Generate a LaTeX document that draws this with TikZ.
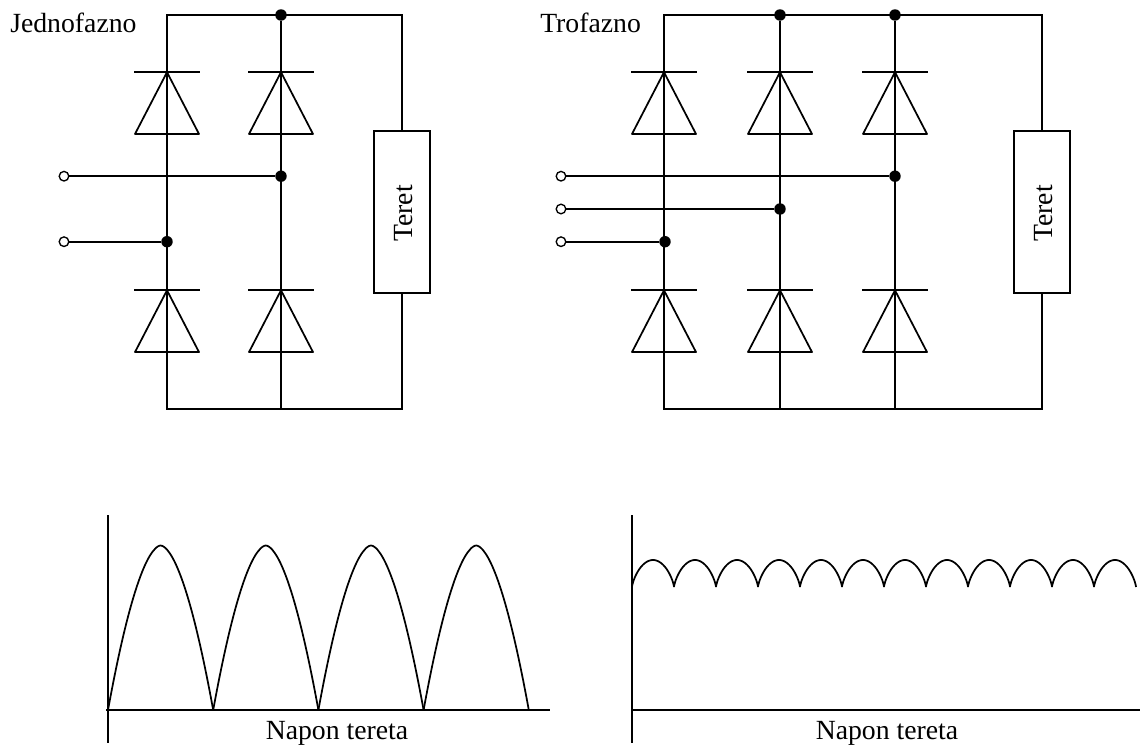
\documentclass[tikz,border=0pt]{standalone}
\usepackage{fontspec}
\setmainfont{Liberation Serif}
\tikzset{
  x=0.75pt,y=-0.75pt,
  wire/.style={line width=1.3pt,line cap=butt,line join=miter},
  dotj/.style={circle,fill=black,draw=none,inner sep=0pt,minimum size=8.6pt},
  term/.style={circle,fill=white,draw=black,line width=1pt,inner sep=0pt,minimum size=7.2pt},
  load/.style={rectangle,draw=black,fill=white,line width=1.25pt,inner sep=0pt,minimum width=42pt,minimum height=121.5pt},
  lbl/.style={font=\fontsize{20.8pt}{24pt}\selectfont,inner sep=0pt,anchor=base},
  diodepic/.pic={
    \draw[wire] (-33,0) -- (33,0);
    \draw[wire,line join=round] (0,0) -- (-32,61.8) -- (32,61.8) -- cycle;
  }
}
\begin{document}
\begin{tikzpicture}
\useasboundingbox (0,0) rectangle (1140,747);
% --- single phase ---
\coordinate (atl) at (167,15);
\coordinate (atr) at (402,15);
\coordinate (abl) at (167,409);
\coordinate (abm) at (281,409);
\coordinate (abr) at (402,409);
\node[dotj] (at2) at (281,15) {};
\node[dotj] (aj2) at (281,176.2) {};
\node[dotj] (aj1) at (167,241.7) {};
\node[term] (at) at (64,176.2) {};
\node[term] (ab) at (64,241.7) {};
\node[load] (aload) at (402,212) {};
\draw[wire] (aload.north) -- (atr) -- (atl) -- (abl) -- (abr) -- (aload.south);
\draw[wire] (at2) -- (abm);
\draw[wire] (at) -- (aj2);
\draw[wire] (ab) -- (aj1);
\foreach \xx in {167,281}{
  \pic at (\xx,72.2) {diodepic};
  \pic at (\xx,290.3) {diodepic};
}
\node[lbl,rotate=90] (aterm) at (412,213.5) {Teret};
\node[lbl,anchor=base west] (atitle) at (10,32) {Jednofazno};
% --- three phase ---
\coordinate (btl) at (664,15);
\coordinate (btr) at (1042,15);
\coordinate (bbl) at (664,409);
\coordinate (bbm) at (780,409);
\coordinate (bbn) at (895,409);
\coordinate (bbr) at (1042,409);
\node[dotj] (bt2) at (780,15) {};
\node[dotj] (bt3) at (895,15) {};
\node[dotj] (bj3) at (895,176.2) {};
\node[dotj] (bj2) at (780,209) {};
\node[dotj] (bj1) at (665,241.7) {};
\node[term] (b3) at (561,176.2) {};
\node[term] (b2) at (561,209) {};
\node[term] (b1) at (561,241.7) {};
\node[load] (bload) at (1042,212) {};
\draw[wire] (bload.north) -- (btr) -- (btl) -- (bbl) -- (bbr) -- (bload.south);
\draw[wire] (bt2) -- (bbm);
\draw[wire] (bt3) -- (bbn);
\draw[wire] (b3) -- (bj3);
\draw[wire] (b2) -- (bj2);
\draw[wire] (b1) -- (bj1);
\foreach \xx in {664,780,895}{
  \pic at (\xx,72.2) {diodepic};
  \pic at (\xx,290.3) {diodepic};
}
\node[lbl,rotate=90] (bterm) at (1052,213.5) {Teret};
\node[lbl,anchor=base west] (btitle) at (540,32) {Trofazno};
% --- left graph ---
\coordinate (c0) at (108,515);
\coordinate (c1) at (108,743);
\coordinate (c2) at (106,710);
\coordinate (c3) at (550,710);
\draw[wire] (c0) -- (c1);
\draw[wire] (c2) -- (c3);
\foreach \k in {0,1,2,3}{
  \draw[wire,line join=round] plot[domain=-1:1,samples=81] ({160.6+105.2*\k+52.6*\x},{710-164.5*(1-pow(max(abs(\x),0.001),1.75))});
}
\node[lbl] (cl) at (337,739) {Napon tereta};
% --- right graph ---
\coordinate (d0) at (632,515);
\coordinate (d1) at (632,743);
\coordinate (d2) at (632,710);
\coordinate (d3) at (1140,710);
\draw[wire] (d0) -- (d1);
\draw[wire] (d2) -- (d3);
\foreach \k in {0,...,11}{
  \draw[wire,line join=round] plot[domain=0:180,samples=61] ({653+42*\k-21*cos(\x)},{587-27*pow(max(sin(\x),0.001),1.5)});
}
\node[lbl] (dl) at (887,739) {Napon tereta};
\end{tikzpicture}
\end{document}
